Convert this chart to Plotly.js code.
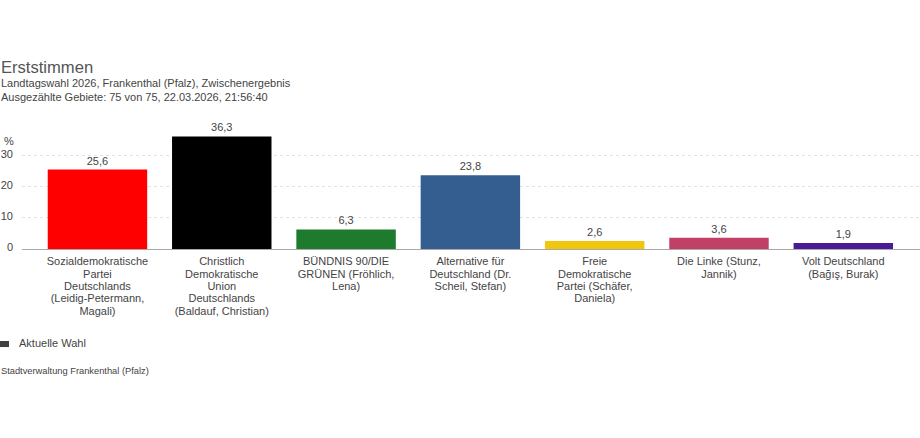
<!DOCTYPE html>
<html>
<head>
<meta charset="utf-8">
<script src="https://cdn.plot.ly/plotly-3.0.1.min.js"></script>
<style>
  html, body { margin: 0; padding: 0; background: #fff; }
  #chart { width: 920px; height: 438px; }
</style>
</head>
<body>
<div id="chart"></div>
<script>
const parties = [
  "Sozialdemokratische<br>Partei<br>Deutschlands<br>(Leidig-Petermann,<br>Magali)",
  "Christlich<br>Demokratische<br>Union<br>Deutschlands<br>(Baldauf, Christian)",
  "BÜNDNIS 90/DIE<br>GRÜNEN (Fröhlich,<br>Lena)",
  "Alternative für<br>Deutschland (Dr.<br>Scheil, Stefan)",
  "Freie<br>Demokratische<br>Partei (Schäfer,<br>Daniela)",
  "Die Linke (Stunz,<br>Jannik)",
  "Volt Deutschland<br>(Bağış, Burak)"
];
const shares = [25.6, 36.3, 6.3, 23.8, 2.6, 3.6, 1.9];
const partyColors = ["#ff0000", "#000000", "#1e7a2d", "#335e8f", "#f0c60f", "#c04066", "#4b1a96"];
const yTicks = [0, 10, 20, 30];
const legendName = "Aktuelle Wahl";
const legendColor = "#404040";

const fontFamily = "Arial, 'Liberation Sans', sans-serif";
const textColor = "#444444";
const labelSize = 11;

function note(text, x, y, size) {
  return {
    text: text, xref: "paper", yref: "paper", x: x, y: y,
    xanchor: "left", yanchor: "middle", showarrow: false, borderpad: 0,
    font: { family: fontFamily, size: size || labelSize, color: textColor }
  };
}

const traces = [
  {
    type: "bar",
    x: parties,
    y: shares,
    width: 0.8,
    marker: { color: partyColors },
    texttemplate: "%{y:.1f}",
    textposition: "outside",
    cliponaxis: false,
    textfont: { family: fontFamily, size: labelSize, color: textColor },
    showlegend: false,
    hoverinfo: "x+y"
  }
];

const layout = {
  width: 920,
  height: 438,
  margin: { l: 22, r: 0, t: 120, b: 189, pad: 0, autoexpand: false },
  paper_bgcolor: "#ffffff",
  plot_bgcolor: "#ffffff",
  separators: ",.",
  font: { family: fontFamily, size: labelSize, color: textColor },
  title: {
    text: "Erststimmen",
    font: { family: fontFamily, size: 16.6, color: "#555555" },
    x: 0.001,
    xref: "container",
    xanchor: "left",
    y: 0.847,
    yref: "container",
    yanchor: "middle"
  },
  xaxis: {
    type: "category",
    categoryorder: "array",
    categoryarray: parties,
    range: [-0.607, 6.617],
    showgrid: false,
    showline: true,
    linecolor: "#a8a8a8",
    linewidth: 1,
    ticks: "",
    ticklabelstandoff: 2,
    tickangle: 0,
    tickfont: { family: fontFamily, size: labelSize, color: textColor }
  },
  yaxis: {
    range: [0, 41.6],
    tickmode: "array",
    tickvals: yTicks,
    showline: false,
    zeroline: false,
    showgrid: true,
    gridcolor: "#e2e2e2",
    griddash: "dot",
    gridwidth: 1,
    ticks: "",
    ticklabelstandoff: 8,
    ticklabelshift: -2,
    tickfont: { family: fontFamily, size: labelSize, color: textColor }
  },
  showlegend: false,
  shapes: [
    // legend swatch
    {
      type: "rect", xref: "paper", yref: "paper",
      x0: -0.0245, x1: -0.0145, y0: -0.76, y1: -0.713,
      fillcolor: legendColor, line: { width: 0 }
    }
  ],
  annotations: [
    note("Landtagswahl 2026, Frankenthal (Pfalz), Zwischenergebnis", -0.0242, 1.287),
    note("Ausgezählte Gebiete: 75 von 75, 22.03.2026, 21:56:40", -0.0242, 1.178),
    note("%", -0.0212, 0.837),
    note(legendName, -0.0045, -0.729),
    note("Stadtverwaltung Frankenthal (Pfalz)", -0.0242, -0.946, 9.3)
  ]
};

Plotly.newPlot("chart", traces, layout, { displayModeBar: false, responsive: false }).then(function () {
  // the axis labels sit closer together than plotly's fixed line spacing
  document.querySelectorAll("#chart .xtick text tspan.line").forEach(function (t) {
    const dy = parseFloat(t.getAttribute("dy"));
    if (dy) t.setAttribute("dy", (dy / 1.3 * 1.13) + "em");
  });
});
</script>
</body>
</html>
